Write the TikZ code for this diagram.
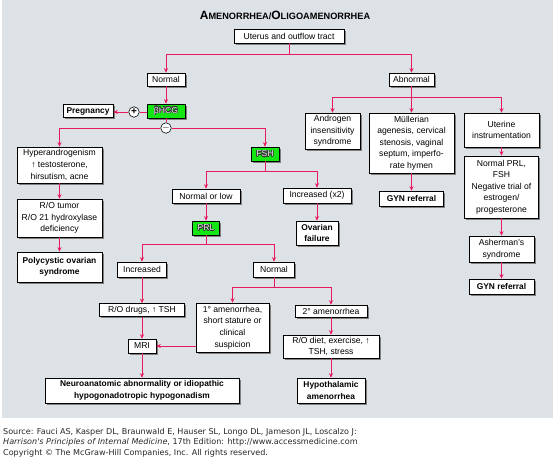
\documentclass[tikz,border=0pt]{standalone}
\usepackage{fontspec}
\setmainfont{Liberation Sans}
\newfontfamily\srcfont{DejaVu Sans}
\usepackage[copies]{contour}
\contourlength{0.45pt}
\usetikzlibrary{shadows,arrows.meta}
\definecolor{panel}{HTML}{DDE2E6}
\definecolor{conn}{HTML}{E8195C}
\definecolor{hgreen}{HTML}{14E614}
\newcommand{\bxfont}{\fontsize{8.6}{11.6}\selectfont}
\newcommand{\gtxt}[1]{\contour{black!80}{\textcolor{white!92!black}{#1}}}
\tikzset{
  box/.style={draw=black, fill=white, line width=0.6pt, inner sep=0pt, align=center,
    font=\bxfont, drop shadow={shadow xshift=1.6pt, shadow yshift=-1.6pt, fill=black!50, opacity=1}},
  bbox/.style={box, font=\fontsize{8.4}{11.6}\selectfont\bfseries},
  gbox/.style={box, fill=hgreen},
  sign/.style={circle, draw=black, fill=white, line width=0.6pt, inner sep=0pt, minimum size=10.5pt, font=\fontsize{10}{10}\selectfont\bfseries},
  line/.style={draw=conn, line width=1pt},
  arr/.style={line, -{Stealth[length=4.5pt,width=4pt]}},
  srcnode/.style={anchor=west, inner sep=0pt, font=\srcfont\fontsize{8.05}{8.5}\selectfont, text=black!85},
}
\begin{document}
\begin{tikzpicture}[x=1pt,y=-1pt]
\useasboundingbox (0,0) rectangle (554,463);
\fill[panel] (2,0) rectangle (553,418);
% title
\node[font=\bfseries] (title) at (285,15) {{\fontsize{12}{12}\selectfont A}{\fontsize{9.2}{12}\selectfont MENORRHEA/}{\fontsize{12}{12}\selectfont O}{\fontsize{9.2}{12}\selectfont LIGOAMENORRHEA}};
% boxes
\node[box, minimum width=110pt, minimum height=14pt] (uterus) at (289,36) {Uterus and outflow tract};
\node[box, minimum width=38pt, minimum height=13pt] (normal) at (166,79.5) {Normal};
\node[box, minimum width=45pt, minimum height=13pt] (abnormal) at (411.5,79.5) {Abnormal};
\node[gbox, minimum width=38pt, minimum height=14pt] (hcg) at (166,111) {\gtxt{βHCG}};
\node[bbox, minimum width=50pt, minimum height=13pt] (preg) at (88,111) {Pregnancy};
\node[sign] (plus) at (134,112) {+};
\node[sign] (minus) at (166,128) {$-$};
\node[box, minimum width=85pt, minimum height=36pt] (hyper) at (59.5,165) {Hyperandrogenism\\↑ testosterone,\\hirsutism, acne};
\node[box, minimum width=85pt, minimum height=38pt] (rotumor) at (59.5,218) {R/O tumor\\R/O 21 hydroxylase\\deficiency};
\node[bbox, minimum width=85pt, minimum height=30pt] (pcos) at (59.5,267) {Polycystic ovarian\\syndrome};
\node[gbox, minimum width=28pt, minimum height=14pt] (fsh) at (265,154) {\gtxt{FSH}};
\node[box, minimum width=68pt, minimum height=14pt] (normlow) at (206,196) {Normal or low};
\node[box, minimum width=68pt, minimum height=15pt] (incx) at (317,195.5) {Increased (x2)};
\node[bbox, minimum width=42pt, minimum height=24pt] (ovfail) at (317,233) {Ovarian\\failure};
\node[gbox, minimum width=27pt, minimum height=14pt] (prl) at (206,228) {\gtxt{PRL}};
\node[box, minimum width=49pt, minimum height=15pt] (incr) at (142,269.5) {Increased};
\node[box, minimum width=41pt, minimum height=15pt] (normal2) at (274,269.5) {Normal};
\node[box, minimum width=85pt, minimum height=13pt] (rodrugs) at (142,310) {R/O drugs, ↑ TSH};
\node[box, minimum width=28pt, minimum height=14pt] (mri) at (142,346) {MRI};
\node[box, minimum width=73pt, minimum height=49pt] (prim) at (232.5,327.5) {1° amenorrhea,\\short stature or\\clinical\\suspicion};
\node[bbox, minimum width=194pt, minimum height=25pt] (neuro) at (142,390.5) {Neuroanatomic abnormality or idiopathic\\hypogonadotropic hypogonadism};
\node[box, minimum width=72pt, minimum height=12pt] (sec) at (331,311) {2° amenorrhea};
\node[box, minimum width=96pt, minimum height=23pt] (rodiet) at (331,346.5) {R/O diet, exercise, ↑\\TSH, stress};
\node[bbox, minimum width=68pt, minimum height=25pt] (hypo) at (331,390.5) {Hypothalamic\\amenorrhea};
\node[box, minimum width=55pt, minimum height=36pt] (andro) at (332.5,131) {Androgen\\insensitivity\\syndrome};
\node[box, minimum width=85pt, minimum height=60pt] (mull) at (411.5,143) {Müllerian\\agenesis, cervical\\stenosis, vaginal\\septum, imperfo-\\rate hymen};
\node[bbox, minimum width=64pt, minimum height=15pt] (gyn1) at (411.5,198.5) {GYN referral};
\node[box, minimum width=75pt, minimum height=34pt] (uter) at (501.5,130) {Uterine\\instrumentation};
\node[box, minimum width=74pt, minimum height=62pt] (nprl) at (501.5,187) {Normal PRL,\\FSH\\Negative trial of\\estrogen/\\progesterone};
\node[box, minimum width=65pt, minimum height=26pt] (asher) at (501.5,249) {Asherman's\\syndrome};
\node[bbox, minimum width=65pt, minimum height=15pt] (gyn2) at (501.5,286.5) {GYN referral};
% junctions
\coordinate (j1) at (289,54);
\coordinate (j2) at (265,171);
\coordinate (j3) at (206,244);
\coordinate (j4) at (274,287);
\coordinate (j5) at (411.5,97);
% connectors
\draw[line] (uterus.south) -- (j1);
\draw[arr] (j1) -| (normal.north);
\draw[arr] (j1) -| (abnormal.north);
\draw[arr] (normal) -- (hcg);
\draw[line] (hcg.west |- plus) -- (plus);
\draw[arr] (plus) -- (preg.east |- plus);
\draw[line] (hcg.south) -- (minus);
\draw[arr] (minus) -| (hyper.north);
\draw[arr] (minus) -| (fsh.north);
\draw[arr] (hyper) -- (rotumor);
\draw[arr] (rotumor) -- (pcos);
\draw[line] (fsh.south) -- (j2);
\draw[arr] (j2) -| (normlow.north);
\draw[arr] (j2) -| (incx.north);
\draw[arr] (incx) -- (ovfail);
\draw[arr] (normlow) -- (prl);
\draw[line] (prl.south) -- (j3);
\draw[arr] (j3) -| (incr.north);
\draw[arr] (j3) -| (normal2.north);
\draw[arr] (incr) -- (rodrugs);
\draw[arr] (rodrugs) -- (mri);
\draw[arr] (mri) -- (neuro);
\draw[line] (normal2.south) -- (j4);
\draw[arr] (j4) -| (prim.north);
\draw[arr] (j4) -| (sec.north);
\draw[arr] (prim.west |- mri) -- (mri.east);
\draw[arr] (sec) -- (rodiet);
\draw[arr] (rodiet) -- (hypo);
\draw[line] (abnormal.south) -- (j5);
\draw[arr] (j5) -| (andro.north);
\draw[arr] (j5) -- (mull.north);
\draw[arr] (j5) -| (uter.north);
\draw[arr] (mull) -- (gyn1);
\draw[arr] (uter) -- (nprl);
\draw[arr] (nprl) -- (asher);
\draw[arr] (asher) -- (gyn2);
% source
\node[srcnode] (src1) at (3,432) {Source: Fauci AS, Kasper DL, Braunwald E, Hauser SL, Longo DL, Jameson JL, Loscalzo J:};
\node[srcnode] (src2) at (3,442) {\textit{Harrison's Principles of Internal Medicine}, 17th Edition: http://www.accessmedicine.com};
\node[srcnode] (src3) at (3,453) {Copyright © The McGraw-Hill Companies, Inc. All rights reserved.};
\end{tikzpicture}
\end{document}
